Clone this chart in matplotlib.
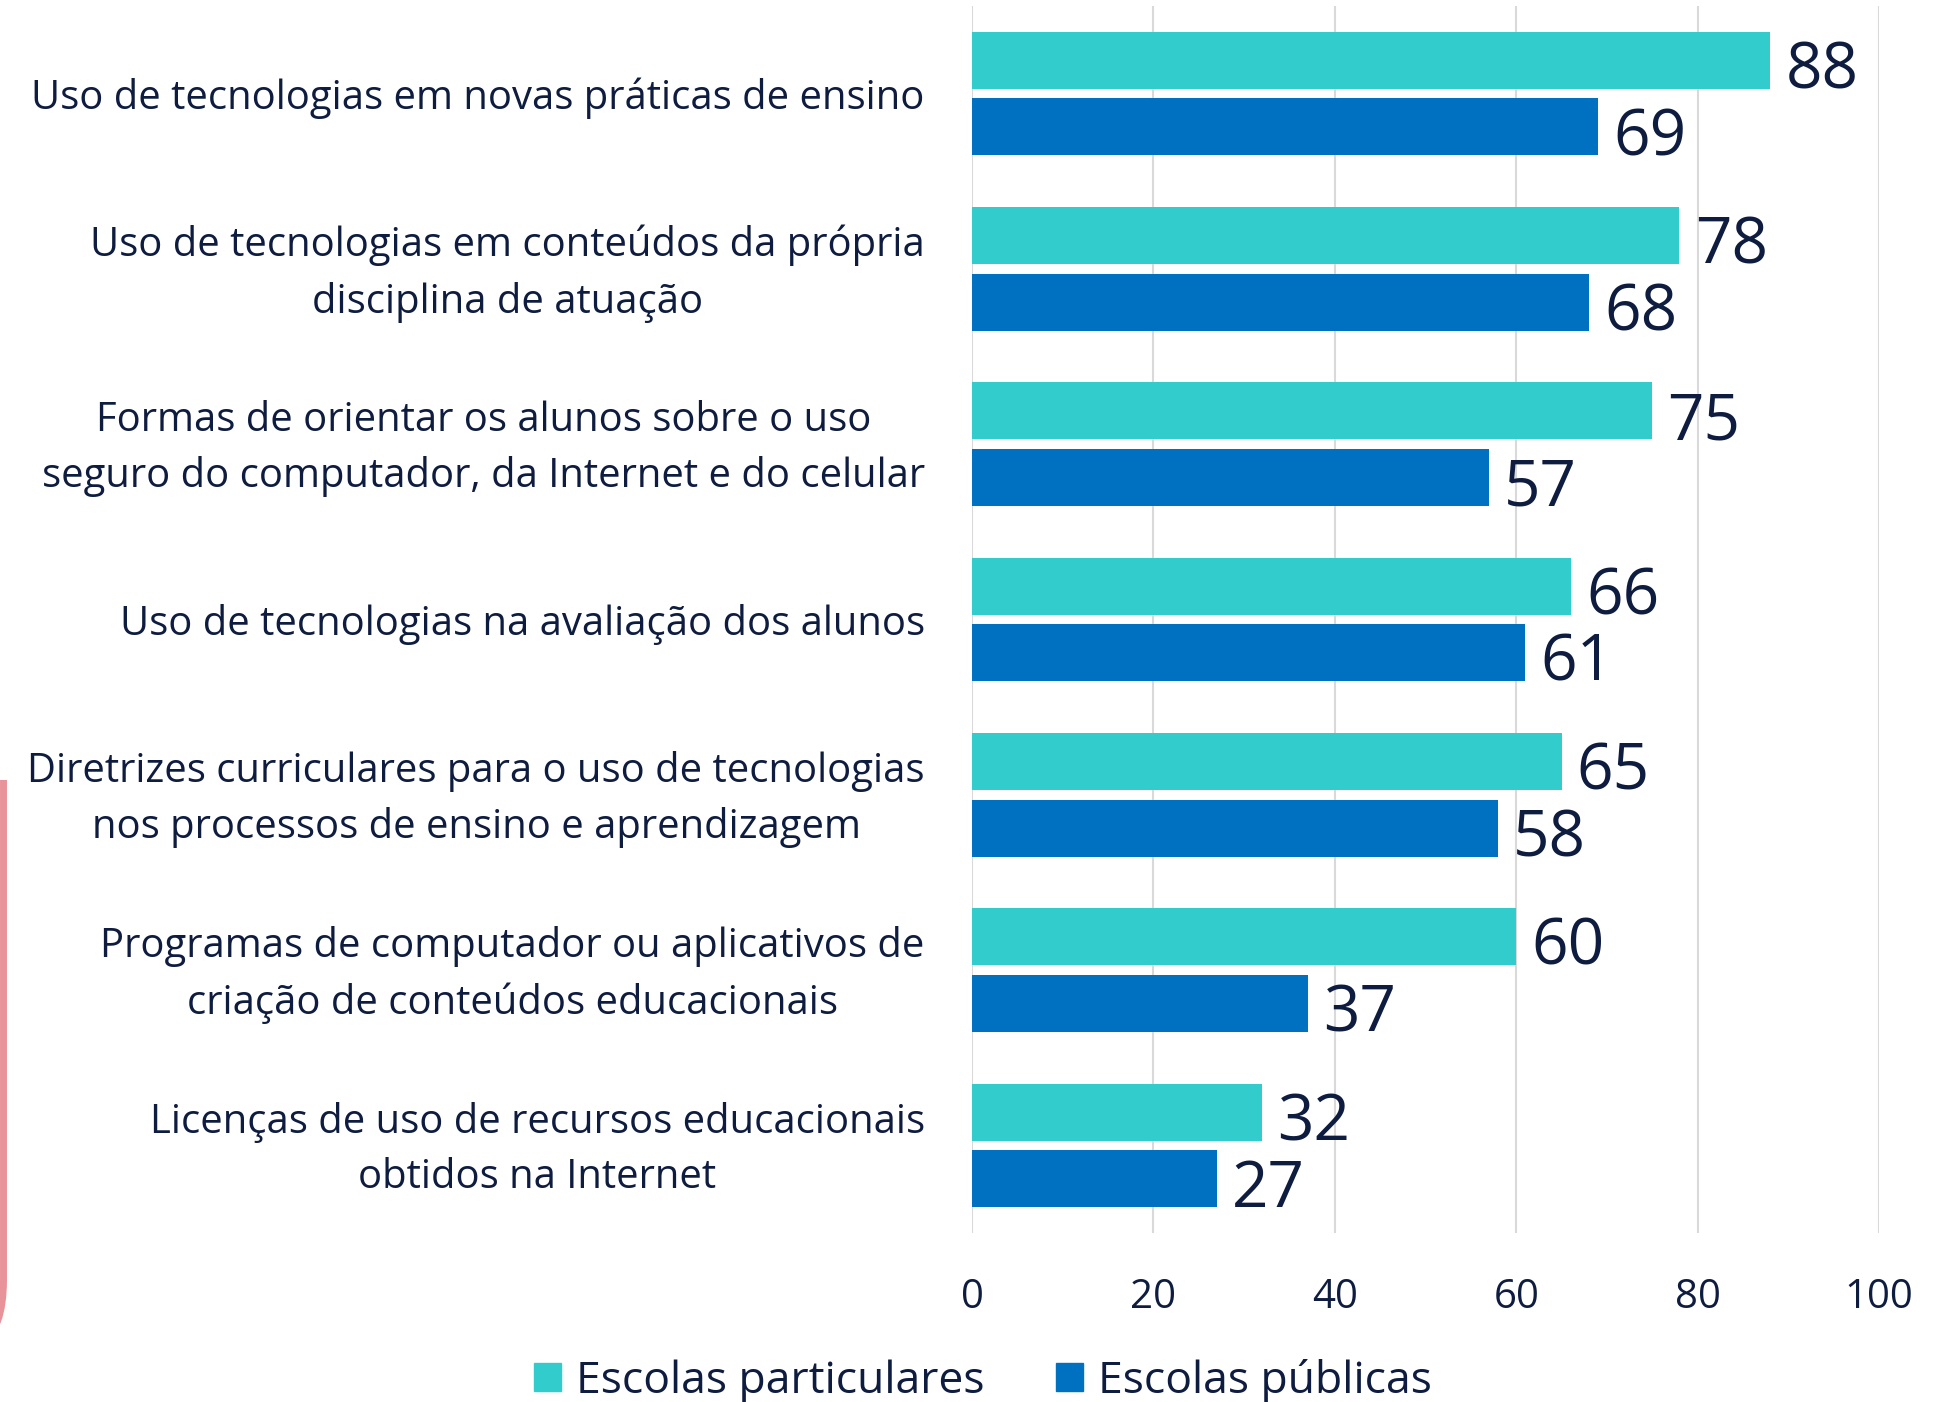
import matplotlib
matplotlib.use('Agg')
import matplotlib.pyplot as plt
from matplotlib.path import Path
from matplotlib.patches import PathPatch, Patch
import numpy as np

plt.rcParams['font.family'] = ['Open Sans', 'DejaVu Sans']

categorias = ['Uso de tecnologias em novas práticas de ensino',
              'Uso de tecnologias em conteúdos da própria\ndisciplina de atuação',
              'Formas de orientar os alunos sobre o uso\nseguro do computador, da Internet e do celular',
              'Uso de tecnologias na avaliação dos alunos',
              'Diretrizes curriculares para o uso de tecnologias\nnos processos de ensino e aprendizagem',
              'Programas de computador ou aplicativos de\ncriação de conteúdos educacionais',
              'Licenças de uso de recursos educacionais\nobtidos na Internet']
particulares = [88, 78, 75, 66, 65, 60, 32]
publicas = [69, 68, 57, 61, 58, 37, 27]
series_nomes = ['Escolas particulares', 'Escolas públicas']
xticks = [0, 20, 40, 60, 80, 100]

c_part = '#33CCCC'
c_pub = '#0070C0'
c_txt = '#0E1C3F'

W, H = 1945, 1402
fig = plt.figure(figsize=(W/100, H/100), dpi=100)
ax = fig.add_axes([972/W, 1-1233/H, (1879-972)/W, (1233-6)/H])

y = np.arange(len(categorias))
h = 0.325
off = 0.19
ax.barh(y - off, particulares, height=h, color=c_part, zorder=3)
ax.barh(y + off, publicas, height=h, color=c_pub, zorder=3)

for yy, v in zip(y - off, particulares):
    ax.annotate(str(v), (v, yy), xytext=(11, -8), textcoords='offset points',
                va='center', ha='left', fontsize=46, color=c_txt)
for yy, v in zip(y + off, publicas):
    ax.annotate(str(v), (v, yy), xytext=(11, -8), textcoords='offset points',
                va='center', ha='left', fontsize=46, color=c_txt)

ax.set_xlim(0, 100)
ax.set_ylim(len(categorias) - 0.5, -0.5)
ax.set_xticks(xticks)
ax.set_xticklabels([str(t) for t in xticks], fontsize=29, color=c_txt)
ax.set_yticks(y)
ax.set_yticklabels([])
# rótulos das categorias
for yi, cat in zip(y, categorias):
    ax.annotate(cat, (0, yi), xycoords=('axes fraction', 'data'), xytext=(-34, -3.3),
                textcoords='offset points', ha='right', va='center', multialignment='center',
                linespacing=1.5, fontsize=28.8, color=c_txt)
ax.tick_params(axis='y', length=0)
ax.tick_params(axis='x', length=0, pad=32)
for s in ax.spines.values():
    s.set_visible(False)
ax.grid(axis='x', color='#D9D9D9', lw=1.5, zorder=0)
ax.set_axisbelow(True)

handles = [Patch(color=c_part), Patch(color=c_pub)]
fig.legend(handles, series_nomes, loc='center', bbox_to_anchor=(983/W, 1-1381/H),
           ncol=2, frameon=False, fontsize=32, handlelength=0.6, handleheight=0.6,
           handletextpad=0.35, columnspacing=1.6, labelcolor=c_txt)

# borda rosa na esquerda
verts = [(3.5/W, 1-780/H), (3.5/W, 1-1280/H), (3.5/W, 1-1330/H), (-20/W, 1-1345/H)]
codes = [Path.MOVETO, Path.LINETO, Path.CURVE3, Path.CURVE3]
fig.patches.append(PathPatch(Path(verts, codes), transform=fig.transFigure, fill=False,
                             edgecolor='#E8939A', lw=5, capstyle='butt'))

plt.savefig('out.png', dpi=100)
